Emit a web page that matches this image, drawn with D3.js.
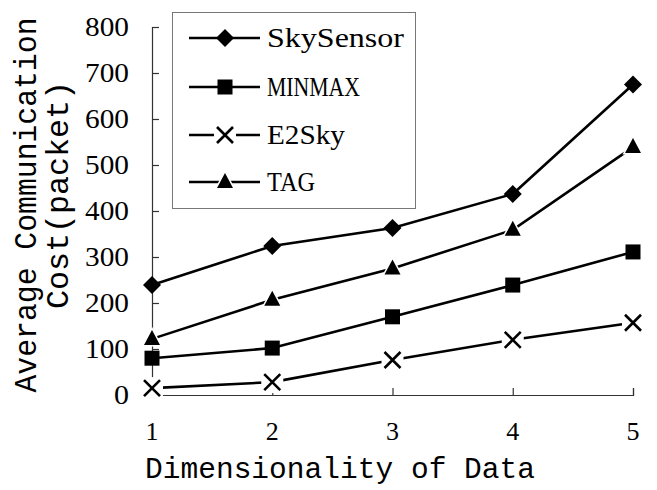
<!DOCTYPE html>
<html>
<head>
<meta charset="utf-8">
<script src="https://cdn.jsdelivr.net/npm/d3@7"></script>
<style>
  body { margin: 0; background: #fff; }
</style>
</head>
<body>
<svg id="chart" width="657" height="490"></svg>
<script>
// data
var dims = [1, 2, 3, 4, 5];
var yTicks = [0, 100, 200, 300, 400, 500, 600, 700, 800];
var seriesNames = ["SkySensor", "MINMAX", "E2Sky", "TAG"];
var skySensor = [239, 324, 363, 437, 675];
var minmax = [80, 102, 170, 239, 311];
var e2sky = [15, 28, 76, 120, 157];
var tag = [122, 207, 275, 359, 539];

var allSeries = [
    {name: "SkySensor", values: skySensor, marker: "diamond"},
    {name: "MINMAX", values: minmax, marker: "square"},
    {name: "E2Sky", values: e2sky, marker: "cross"},
    {name: "TAG", values: tag, marker: "triangle"}
];

var serif = "Liberation Serif, DejaVu Serif, serif";
var mono = "Liberation Mono, DejaVu Sans Mono, monospace";

var svg = d3.select("#chart");

var x = d3.scaleLinear().domain([1, 5]).range([152, 633]);
var y = d3.scaleLinear().domain([0, 800]).range([395, 27]);

// axes, ticks pointing inward
var yAxis = d3.axisRight(y).tickValues(yTicks).tickSize(7).tickFormat("");
var xAxis = d3.axisTop(x).tickValues(dims).tickSize(7).tickFormat("");

var gy = svg.append("g").attr("transform", "translate(152,0)").call(yAxis);
var gx = svg.append("g").attr("transform", "translate(0,395)").call(xAxis);
[gy, gx].forEach(function(g) {
    g.select(".domain").attr("stroke", "#333").attr("stroke-width", 1.2);
    g.selectAll(".tick line").attr("stroke", "#333").attr("stroke-width", 1.2);
});

// tick labels
svg.selectAll(".ylab")
    .data(yTicks)
    .enter()
    .append("text")
    .attr("class", "ylab")
    .attr("x", 129)
    .attr("y", function(d) { return y(d) + 9; })
    .attr("text-anchor", "end")
    .attr("font-family", serif)
    .attr("font-size", 27)
    .attr("textLength", function(d) { return d === 0 ? 15 : 44; })
    .attr("lengthAdjust", "spacingAndGlyphs")
    .text(function(d) { return d; });

svg.selectAll(".xlab")
    .data(dims)
    .enter()
    .append("text")
    .attr("class", "xlab")
    .attr("x", function(d) { return x(d); })
    .attr("y", 440)
    .attr("text-anchor", "middle")
    .attr("font-family", serif)
    .attr("font-size", 26)
    .text(function(d) { return d; });

// axis titles
svg.append("text")
    .attr("x", 145)
    .attr("y", 478)
    .attr("font-family", mono)
    .attr("font-size", 30)
    .attr("textLength", 390)
    .attr("lengthAdjust", "spacingAndGlyphs")
    .text("Dimensionality of Data");

svg.append("text")
    .attr("transform", "translate(36,205) rotate(-90)")
    .attr("text-anchor", "middle")
    .attr("font-family", mono)
    .attr("font-size", 31)
    .attr("textLength", 375)
    .attr("lengthAdjust", "spacingAndGlyphs")
    .text("Average Communication");

svg.append("text")
    .attr("transform", "translate(68,195) rotate(-90)")
    .attr("text-anchor", "middle")
    .attr("font-family", mono)
    .attr("font-size", 31)
    .attr("textLength", 228)
    .attr("lengthAdjust", "spacingAndGlyphs")
    .text("Cost(packet)");

// marker drawing
function drawMarker(g, type, cx, cy) {
    if (type === "diamond") {
        g.append("path")
            .attr("d", "M" + cx + "," + (cy - 9) + "L" + (cx + 9) + "," + cy +
                "L" + cx + "," + (cy + 9) + "L" + (cx - 9) + "," + cy + "Z")
            .attr("fill", "#000");
    } else if (type === "square") {
        g.append("rect")
            .attr("x", cx - 7.5).attr("y", cy - 7.5)
            .attr("width", 15).attr("height", 15)
            .attr("fill", "#000");
    } else if (type === "triangle") {
        g.append("path")
            .attr("d", "M" + cx + "," + (cy - 9) + "L" + (cx + 8) + "," + (cy + 6) +
                "L" + (cx - 8) + "," + (cy + 6) + "Z")
            .attr("fill", "#000")
            .attr("stroke", "#fff")
            .attr("stroke-width", 3)
            .attr("paint-order", "stroke");
    } else if (type === "cross") {
        g.append("rect")
            .attr("x", cx - 11).attr("y", cy - 11)
            .attr("width", 22).attr("height", 22)
            .attr("fill", "#fff");
        g.append("path")
            .attr("d", "M" + (cx - 8) + "," + (cy - 8) + "L" + (cx + 8) + "," + (cy + 8) +
                "M" + (cx + 8) + "," + (cy - 8) + "L" + (cx - 8) + "," + (cy + 8))
            .attr("stroke", "#000")
            .attr("stroke-width", 2.6)
            .attr("fill", "none");
    }
}

var line = d3.line()
    .x(function(d, i) { return x(dims[i]); })
    .y(function(d) { return y(d); });

allSeries.forEach(function(s) {
    svg.append("path")
        .datum(s.values)
        .attr("d", line)
        .attr("fill", "none")
        .attr("stroke", "#000")
        .attr("stroke-width", 2.6);
});
allSeries.forEach(function(s) {
    var g = svg.append("g");
    s.values.forEach(function(v, i) {
        drawMarker(g, s.marker, x(dims[i]), y(v));
    });
});

// legend
var legend = svg.append("g");
legend.append("rect")
    .attr("x", 172.5).attr("y", 12.5)
    .attr("width", 243).attr("height", 196)
    .attr("fill", "#fff")
    .attr("stroke", "#777")
    .attr("stroke-width", 1);

var legendY = [38, 87, 135, 182];
var legendLen = [137, 93, 78, 48];
allSeries.forEach(function(s, i) {
    var ly = legendY[i];
    var lg = legend.append("g");
    lg.append("line")
        .attr("x1", 189).attr("x2", 260)
        .attr("y1", ly).attr("y2", ly)
        .attr("stroke", "#000")
        .attr("stroke-width", 2.6);
    drawMarker(lg, s.marker, 225, ly);
    lg.append("text")
        .attr("x", 267)
        .attr("y", ly + 9)
        .attr("font-family", serif)
        .attr("font-size", 27)
        .attr("textLength", legendLen[i])
        .attr("lengthAdjust", "spacingAndGlyphs")
        .text(seriesNames[i]);
});
</script>
</body>
</html>
